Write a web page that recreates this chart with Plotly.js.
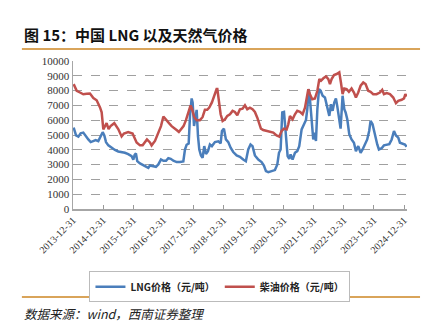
<!DOCTYPE html>
<html>
<head>
<meta charset="utf-8">
<script src="https://cdn.plot.ly/plotly-3.0.1.min.js"></script>
<style>html,body{margin:0;padding:0;background:#fff;}#chart{width:429px;height:326px;}</style>
</head>
<body>
<div id="chart"></div>
<script>
// LNG price (yuan/ton)
const lngDates = ["2014-01-08","2014-02-06","2014-03-06","2014-04-03","2014-05-05","2014-06-07","2014-07-05","2014-08-03","2014-09-04","2014-10-02","2014-11-03","2014-11-24","2014-12-14","2014-12-26","2015-01-15","2015-02-05","2015-03-05","2015-04-14","2015-05-24","2015-07-03","2015-08-13","2015-09-22","2015-11-01","2015-12-12","2016-01-02","2016-01-18","2016-02-03","2016-02-19","2016-03-23","2016-05-02","2016-06-12","2016-07-02","2016-07-22","2016-09-01","2016-10-03","2016-11-01","2016-12-03","2017-01-01","2017-02-02","2017-03-02","2017-03-31","2017-05-02","2017-06-11","2017-07-21","2017-08-31","2017-09-20","2017-10-10","2017-11-04","2017-11-20","2017-12-10","2017-12-22","2018-01-08","2018-01-24","2018-02-09","2018-02-25","2018-03-13","2018-04-02","2018-04-22","2018-05-12","2018-06-02","2018-06-26","2018-07-20","2018-08-13","2018-09-06","2018-09-19","2018-10-30","2018-11-27","2018-12-13","2019-01-06","2019-01-30","2019-02-28","2019-03-28","2019-04-29","2019-06-09","2019-07-19","2019-08-28","2019-09-29","2019-10-28","2019-11-25","2019-12-19","2020-01-17","2020-02-27","2020-04-07","2020-05-05","2020-05-30","2020-06-27","2020-08-07","2020-09-16","2020-10-15","2020-11-04","2020-11-24","2020-12-14","2021-01-04","2021-01-28","2021-02-17","2021-03-09","2021-03-25","2021-04-18","2021-05-17","2021-06-14","2021-07-08","2021-08-06","2021-09-04","2021-09-28","2021-10-14","2021-10-30","2021-11-15","2021-12-05","2021-12-25","2022-01-11","2022-01-27","2022-02-13","2022-03-05","2022-03-25","2022-04-18","2022-05-16","2022-06-14","2022-07-08","2022-07-28","2022-08-17","2022-09-06","2022-09-26","2022-10-12","2022-11-02","2022-11-22","2022-12-16","2023-01-06","2023-01-22","2023-02-11","2023-03-07","2023-04-04","2023-05-03","2023-05-27","2023-06-24","2023-07-23","2023-08-16","2023-09-13","2023-10-11","2023-11-04","2023-11-21","2023-12-15","2024-01-05","2024-01-25","2024-02-10","2024-03-01","2024-04-03","2024-05-01","2024-06-03","2024-07-05","2024-08-03","2024-08-31","2024-09-24","2024-10-22","2024-11-11","2024-12-14","2025-01-11","2025-02-01"];
const lngValues = [5500,4970,4890,5110,5160,4890,4700,4520,4570,4660,4590,4840,5020,5190,4970,4520,4300,4140,3990,3890,3850,3800,3710,3570,3340,3660,3750,3230,3080,2940,2850,2780,2940,2890,2850,3010,3350,3260,3260,3440,3390,3260,3170,3170,3210,4020,4340,4430,6290,7470,7200,5610,6290,6700,4930,4020,3620,3460,4250,3710,3910,4360,4250,4430,4520,4570,4430,5270,5430,4700,4520,4140,3850,3620,3530,3340,3230,4020,4360,4250,3620,3340,3170,2940,2560,2490,2540,2630,3010,3800,4020,6520,6560,4930,3570,3390,3690,3340,3800,3910,4250,5380,5790,6020,6740,8100,7420,6290,4700,5160,4590,6740,8100,7990,7650,7530,6780,6290,7080,6630,7190,7470,6970,6060,5430,7650,6740,6520,6060,5050,4700,4480,3910,4250,3800,4020,4360,4700,5270,5950,5720,5160,4700,4360,4020,4110,4300,4340,4380,4700,5270,4970,4820,4480,4430,4360,4200];

// Diesel price (yuan/ton)
const dieselDates = ["2014-01-08","2014-02-14","2014-03-26","2014-05-05","2014-06-15","2014-07-25","2014-09-04","2014-10-14","2014-11-24","2014-12-14","2015-01-03","2015-01-23","2015-02-12","2015-03-08","2015-04-01","2015-05-16","2015-07-03","2015-08-13","2015-09-10","2015-11-01","2015-12-24","2016-02-11","2016-03-23","2016-04-24","2016-05-22","2016-06-16","2016-07-22","2016-08-11","2016-09-21","2016-11-13","2016-12-03","2017-01-01","2017-02-10","2017-03-10","2017-04-11","2017-05-09","2017-06-18","2017-07-08","2017-08-02","2017-09-03","2017-10-02","2017-10-30","2017-11-27","2017-12-13","2018-01-11","2018-02-09","2018-03-20","2018-04-21","2018-05-20","2018-06-17","2018-07-12","2018-08-13","2018-09-19","2018-10-09","2018-10-18","2018-11-07","2018-11-27","2018-12-21","2019-01-19","2019-02-16","2019-03-20","2019-04-21","2019-05-19","2019-06-17","2019-07-19","2019-08-20","2019-09-18","2019-10-16","2019-11-17","2019-12-19","2020-01-17","2020-02-15","2020-03-10","2020-03-30","2020-04-27","2020-06-07","2020-07-17","2020-08-27","2020-10-06","2020-11-07","2020-12-06","2021-01-04","2021-02-05","2021-02-25","2021-03-17","2021-04-18","2021-05-17","2021-06-14","2021-07-17","2021-08-18","2021-09-16","2021-10-06","2021-10-26","2021-11-15","2021-12-13","2022-01-15","2022-02-13","2022-03-09","2022-03-29","2022-04-27","2022-05-29","2022-06-26","2022-07-16","2022-08-05","2022-09-03","2022-10-05","2022-11-06","2022-11-26","2022-12-16","2023-01-06","2023-02-03","2023-03-03","2023-04-04","2023-05-03","2023-05-27","2023-06-24","2023-07-23","2023-08-24","2023-09-21","2023-10-23","2023-11-21","2023-12-23","2024-02-01","2024-03-13","2024-04-10","2024-05-01","2024-06-03","2024-07-13","2024-08-22","2024-09-24","2024-10-22","2024-12-02","2024-12-31","2025-01-16","2025-02-01"];
const dieselValues = [8440,7990,7870,7750,7780,7800,7500,7350,6860,6530,5380,5610,5800,5400,5600,5800,5400,4900,5100,5200,5100,4500,4300,4300,4500,4700,4500,4300,4600,5300,5600,6250,5950,5800,5600,5500,5300,5200,5400,5600,6000,6600,7000,6800,6200,6000,6000,6200,6700,6700,6850,7200,7900,8100,8100,7190,6400,5950,6060,6290,6400,6630,6560,6330,6740,6780,7010,6740,6850,6740,6560,6170,5720,5430,5340,5270,5200,5160,4970,4890,5270,5430,5380,5720,6290,6060,6400,6630,6560,6400,6850,7530,8100,7760,7420,7470,7990,8780,8670,8830,8960,8780,8440,8780,9050,9120,9230,8550,7760,8140,8100,7920,8140,7870,7530,7870,8330,8550,8440,7990,7920,7760,7760,7870,8050,7760,7830,7760,7530,7150,7310,7380,7470,7760,7600];

const tickDates = ["2013-12-31","2014-12-31","2015-12-31","2016-12-31","2017-12-31","2018-12-31","2019-12-31","2020-12-31","2021-12-31","2022-12-31","2023-12-31","2024-12-31"];
const tickLabels = tickDates.slice();

const serif = "'Liberation Serif', 'Times New Roman', serif";
const cjk = "'Noto Sans CJK SC', sans-serif";

const traces = [
  {x: lngDates, y: lngValues, type: 'scatter', mode: 'lines', name: 'LNG价格（元/吨）',
   line: {color: '#4A7EBB', width: 2.5}},
  {x: dieselDates, y: dieselValues, type: 'scatter', mode: 'lines', name: '柴油价格（元/吨）',
   line: {color: '#C0504D', width: 2.5}}
];

const layout = {
  width: 429, height: 326,
  margin: {l: 73, r: 22, t: 61, b: 117},
  paper_bgcolor: '#fff', plot_bgcolor: '#fff',
  showlegend: true,
  legend: {orientation: 'h', x: 0.44, xanchor: 'center', y: -0.42, yanchor: 'top',
    bordercolor: '#bbbbbb', borderwidth: 1, font: {family: cjk, size: 10, color: '#222', weight: 'bold'},
    itemwidth: 30, tracegroupgap: 0},
  xaxis: {type: 'date', range: ['2013-12-31', '2025-02-05'], tickmode: 'array',
    tickvals: tickDates, ticktext: tickLabels, tickangle: -45,
    ticks: 'inside', ticklen: 4, tickcolor: '#999', tickwidth: 1,
    showline: true, linecolor: '#a6a6a6', linewidth: 1.5, showgrid: false, zeroline: false,
    tickfont: {family: serif, size: 10, color: '#333'}},
  yaxis: {range: [0, 10000], dtick: 1000, tick0: 0, tickformat: 'd', showline: true, linecolor: '#a6a6a6', linewidth: 1.5,
    showgrid: true, gridcolor: '#a0a0a0', griddash: 'dash', gridwidth: 1, zeroline: false,
    ticks: '', tickfont: {family: serif, size: 11, color: '#333'}},
  shapes: [
    {type: 'line', xref: 'paper', yref: 'paper', x0: -0.153, x1: 1.039, y0: 1.081, y1: 1.081,
     line: {color: '#D9A45A', width: 2}},
    {type: 'line', xref: 'paper', yref: 'paper', x0: -0.153, x1: 1.039, y0: -0.595, y1: -0.595,
     line: {color: '#D9A45A', width: 2}}
  ],
  annotations: [
    {text: '<b>图 15：中国 LNG 以及天然气价格</b>', xref: 'paper', yref: 'paper', x: -0.153, y: 1.176,
     xanchor: 'left', yanchor: 'middle', showarrow: false, font: {family: cjk, size: 15, color: '#111'}},
    {text: '<i>数据来源：wind，西南证券整理</i>', xref: 'paper', yref: 'paper', x: -0.153, y: -0.703,
     xanchor: 'left', yanchor: 'middle', showarrow: false, font: {family: cjk, size: 12.5, color: '#222'}}
  ]
};

Plotly.newPlot('chart', traces, layout, {displayModeBar: false, staticPlot: true});
</script>
</body>
</html>
